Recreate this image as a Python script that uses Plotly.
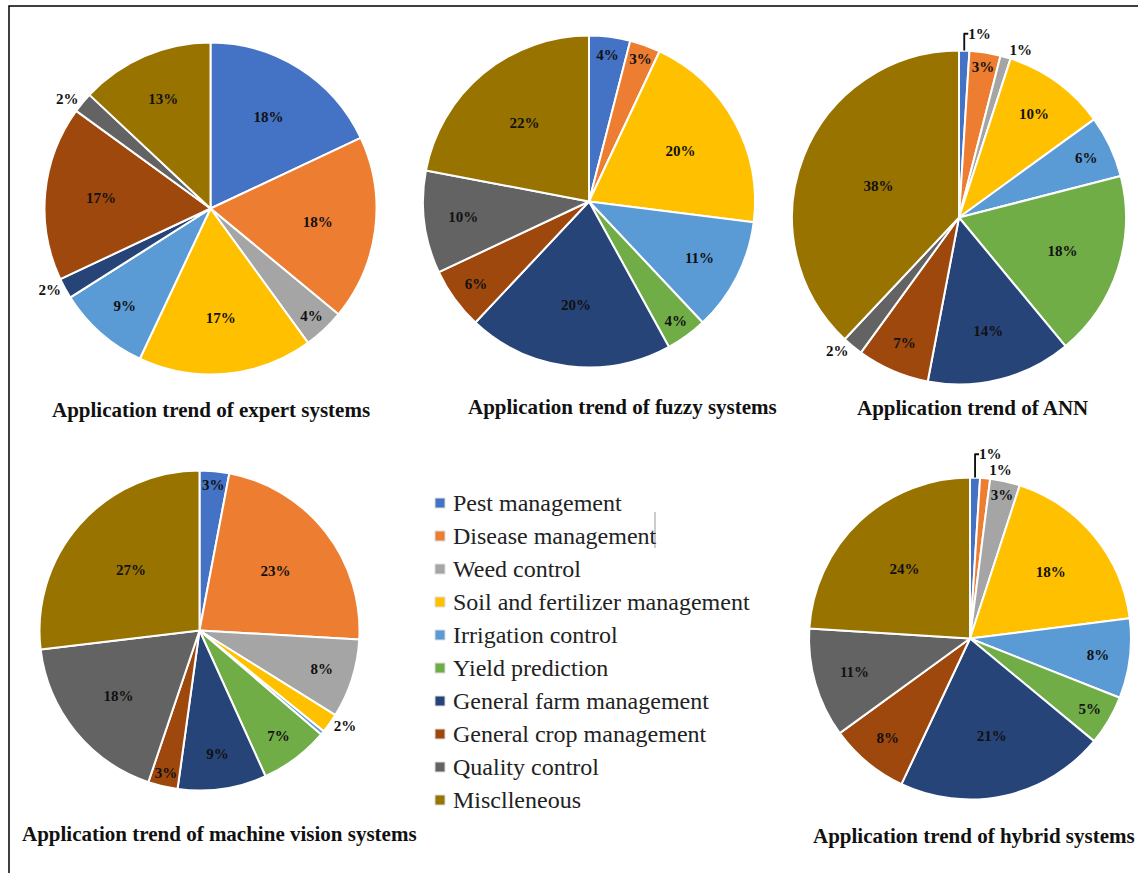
import plotly.graph_objects as go

W, H = 1138, 873

categories = [
    "Pest management", "Disease management", "Weed control",
    "Soil and fertilizer management", "Irrigation control", "Yield prediction",
    "General farm management", "General crop management", "Quality control",
    "Misclleneous",
]

colors = ["#4472C4", "#ED7D31", "#A5A5A5", "#FFC000", "#5B9BD5",
          "#70AD47", "#264478", "#9E480E", "#636363", "#997300"]

# Share of applications (%) per category, in the order of `categories`
expert_systems = [18, 18, 4, 17, 9, 0, 2, 17, 2, 13]
fuzzy_systems = [4, 3, 0, 20, 11, 4, 20, 6, 10, 22]
ann_systems = [1, 3, 1, 10, 6, 18, 14, 7, 2, 38]
vision_systems = [3, 23, 8, 2, 0.4, 7, 9, 3, 18, 27]
hybrid_systems = [1, 1, 3, 18, 8, 5, 21, 8, 11, 24]

titles = [
    "Application trend of expert systems",
    "Application trend of fuzzy systems",
    "Application trend of ANN",
    "Application trend of machine vision systems",
    "Application trend of hybrid systems",
]

series = [expert_systems, fuzzy_systems, ann_systems, vision_systems, hybrid_systems]

# pie centre (px), radius (px) and title centre (px)
pie_centres = [(210.5, 208.5), (589, 201.5), (959, 217.5), (199.5, 630.5), (970, 638.5)]
pie_radii = [166, 166, 167, 160, 161]
title_centres = [(211, 410), (622, 407), (972, 408), (219, 834), (974, 836)]

SERIF = "Liberation Serif, Times New Roman, serif"


def px_x(x):
    return x / W


def px_y(y):
    return 1 - y / H


fig = go.Figure()

for vals, (cx, cy), r in zip(series, pie_centres, pie_radii):
    text = [f"{v:.0f}%" if v >= 1 else "" for v in vals]
    pos = ["outside" if v <= 2 else "inside" for v in vals]
    fig.add_trace(go.Pie(
        labels=categories,
        values=vals,
        sort=False,
        direction="clockwise",
        rotation=0,
        marker=dict(colors=colors, line=dict(color="white", width=2)),
        text=text,
        textinfo="text",
        textposition=pos,
        insidetextorientation="horizontal",
        textfont=dict(family=SERIF, size=15, color="#111111", weight="bold"),
        hoverinfo="skip",
        showlegend=False,
        domain=dict(x=[px_x(cx - r), px_x(cx + r)],
                    y=[px_y(cy + r), px_y(cy - r)]),
    ))

annotations = []
for t, (tx, ty) in zip(titles, title_centres):
    annotations.append(dict(
        text=f"<b>{t}</b>", x=px_x(tx), y=px_y(ty), xref="paper", yref="paper",
        xanchor="center", yanchor="middle", showarrow=False,
        font=dict(family=SERIF, size=21, color="#111111"),
    ))

shapes = []
# outer frame: left and top rules
shapes.append(dict(type="path", xref="paper", yref="paper",
                   path=f"M {px_x(9)},{px_y(873)} L {px_x(9)},{px_y(6)} L {px_x(1138)},{px_y(6)}",
                   line=dict(color="black", width=1.5)))

# legend built from the category list
leg_x0, leg_y0, leg_step = 440, 503, 33
for i, (name, col) in enumerate(zip(categories, colors)):
    yc = leg_y0 + i * leg_step
    shapes.append(dict(type="rect", xref="paper", yref="paper",
                       x0=px_x(leg_x0 - 5), x1=px_x(leg_x0 + 5),
                       y0=px_y(yc + 5), y1=px_y(yc - 5),
                       fillcolor=col, line=dict(color="#dddddd", width=1)))
    annotations.append(dict(
        text=name, x=px_x(leg_x0 + 11), y=px_y(yc), xref="paper", yref="paper",
        xanchor="left", yanchor="middle", showarrow=False,
        font=dict(family=SERIF, size=24, color="#222222"),
    ))

# text caret beside the second legend entry
shapes.append(dict(type="line", xref="paper", yref="paper",
                   x0=px_x(655), x1=px_x(655), y0=px_y(548), y1=px_y(512),
                   line=dict(color="#999999", width=1)))

fig.update_layout(
    width=W, height=H,
    margin=dict(l=0, r=0, t=0, b=0),
    paper_bgcolor="white",
    plot_bgcolor="white",
    uniformtext=dict(minsize=15, mode="show"),
    annotations=annotations,
    shapes=shapes,
)

fig.write_html("out.html")
